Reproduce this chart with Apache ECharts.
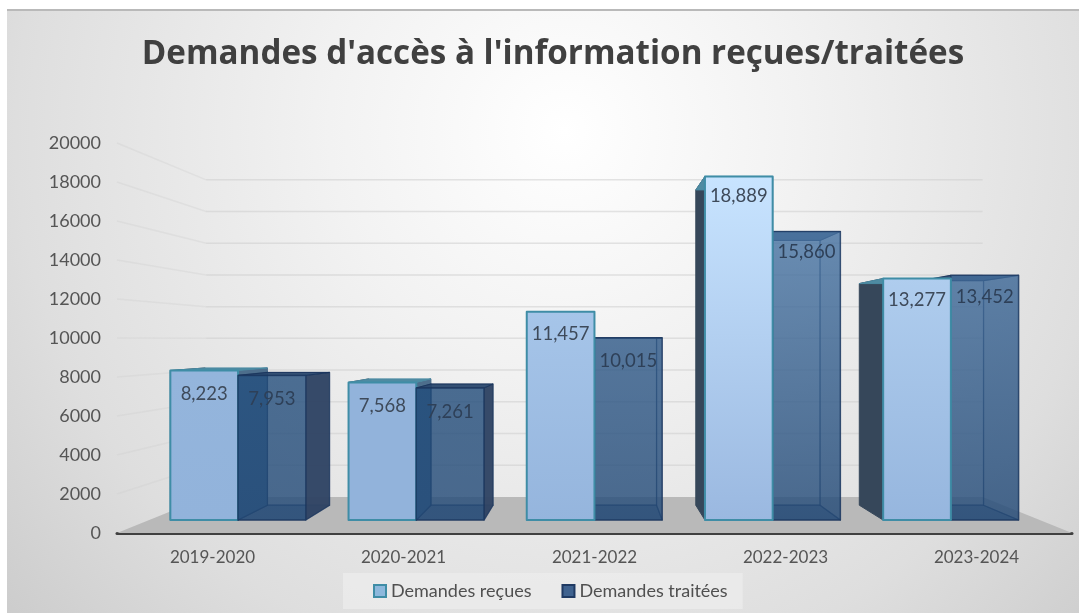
<!DOCTYPE html>
<html lang="fr">
<head>
<meta charset="utf-8">
<title>Demandes d'accès à l'information reçues/traitées</title>
<style>
  html, body { margin: 0; padding: 0; background: #ffffff; }
  #chart { width: 1079px; height: 613px; }
</style>
<script src="https://cdn.jsdelivr.net/npm/echarts@6/dist/echarts.min.js"></script>
</head>
<body>
<div id="chart"></div>
<script>
// Fiscal years and request counts
const categories = ['2019-2020', '2020-2021', '2021-2022', '2022-2023', '2023-2024'];
const demandesRecues = [8223, 7568, 11457, 18889, 13277];
const demandesTraitees = [7953, 7261, 10015, 15860, 13452];
const axisTicks = [2000, 4000, 6000, 8000, 10000, 12000, 14000, 16000, 18000, 20000];

// One-point perspective: every depth plane is a scaling of the axis plane
// around the vanishing point.
const VANISH = { x: 594, y: 340 };
const DEPTH_BAR_FRONT = 0.933;
const DEPTH_BAR_BACK = 0.856;
const DEPTH_WALL = 0.813;
const BAR_BAND_SHARE = 0.38;

const project = (x, y, depth) => [
  VANISH.x + (x - VANISH.x) * depth,
  VANISH.y + (y - VANISH.y) * depth
];

const mix = (a, b, t) => a.map((c, i) => Math.round(c + (b[i] - c) * t));
const rgb = c => `rgb(${c[0]},${c[1]},${c[2]})`;
const poly = (points, style, z2) => ({ type: 'polygon', shape: { points }, style, z2, silent: true });
const linear = (top, bottom) => ({
  type: 'linear', x: 0, y: 0, x2: 0, y2: 1,
  colorStops: [{ offset: 0, color: top }, { offset: 1, color: bottom }]
});

// Corners of one 3D column, in pixels, from the axis scales
function columnGeometry(params, api, seriesPosition) {
  const i = api.value(0);
  const value = api.value(1);
  const centre = api.coord([i, 0])[0];
  const base = api.coord([i, 0])[1];
  const top = api.coord([i, value])[1];
  const w = api.size([1, 0])[0] * BAR_BAND_SHARE;
  const left = centre + (seriesPosition === 0 ? -w : 0);
  const right = left + w;
  const corners = depth => ({
    tl: project(left, top, depth), tr: project(right, top, depth),
    bl: project(left, base, depth), br: project(right, base, depth)
  });
  return { i, value, f: corners(DEPTH_BAR_FRONT), b: corners(DEPTH_BAR_BACK), split: centre };
}

const quad = (a, b, c, d) => [a, b, c, d];
const valueLabel = (g, z2, fill) => {
  const cx = (g.f.tl[0] + g.f.tr[0]) / 2;
  const dy = 27 - 0.4 * g.value / 1000;
  return {
    type: 'text', z2, silent: true,
    style: {
      x: cx, y: g.f.tl[1] + dy,
      text: g.value.toLocaleString('en-US'),
      align: 'center', verticalAlign: 'middle',
      font: '18.5px Lato', fill
    }
  };
};

// Opaque light-blue column with a teal outline
function renderRecues(params, api) {
  const g = columnGeometry(params, api, 0);
  // Right of the vanishing point this column hides its neighbour's inner wall
  const z2 = g.split > VANISH.x ? 6 : 2;
  const t = Math.pow(Math.max(0, Math.min(1, (g.value - 8000) / 10900)), 0.85);
  const topColour = rgb(mix([146, 179, 219], [200, 228, 255], t));
  const bottomColour = rgb(mix([146, 179, 219], [154, 184, 224], t));
  const edge = { stroke: '#3f8da6', lineWidth: 2, lineJoin: 'round' };
  return {
    type: 'group',
    children: [
      poly(quad(g.f.tr, g.b.tr, g.b.br, g.f.br), { fill: '#4d6e8c', stroke: '#4d6e8c', lineWidth: 1 }, z2),
      poly(quad(g.f.tl, g.b.tl, g.b.bl, g.f.bl), { fill: '#36475a', stroke: '#36475a', lineWidth: 1 }, z2),
      poly(quad(g.f.tl, g.f.tr, g.b.tr, g.b.tl), { fill: '#4f8ba2', stroke: '#4a8aa2', lineWidth: 1 }, z2),
      poly(quad(g.f.tl, g.f.tr, g.f.br, g.f.bl), Object.assign({ fill: linear(topColour, bottomColour) }, edge), z2),
      valueLabel(g, z2 + 1, '#3e4a5a')
    ]
  };
}

// Translucent dark-blue column: rear faces stay visible through the front
function renderTraitees(params, api) {
  const g = columnGeometry(params, api, 1);
  const z2 = 4;
  const edge = { stroke: 'rgba(26,52,92,0.9)', lineWidth: 1.5, lineJoin: 'round' };
  const hair = { stroke: 'rgba(26,52,92,0.55)', lineWidth: 1.2, lineJoin: 'round' };
  const rightOutward = g.b.tr[0] > g.f.tr[0];
  const leftInward = g.b.tl[0] > g.f.tl[0];
  const t = Math.max(0, Math.min(1, (g.value - 7000) / 9000));
  const frontTop = rgb(mix([34, 77, 123], [81, 126, 173], t));
  return {
    type: 'group',
    children: [
      poly(quad(g.f.bl, g.f.br, g.b.br, g.b.bl), Object.assign({ fill: 'rgba(24,58,104,0.6)' }, hair), z2),
      poly(quad(g.b.tl, g.b.tr, g.b.br, g.b.bl), Object.assign({ fill: 'rgba(50,82,122,0.4)' }, hair), z2),
      poly(quad(g.f.tl, g.b.tl, g.b.bl, g.f.bl),
        Object.assign({ fill: leftInward ? 'rgba(20,66,118,0.35)' : 'rgba(20,66,118,0.1)' }, hair), z2),
      poly(quad(g.f.tr, g.b.tr, g.b.br, g.f.br),
        Object.assign({ fill: rightOutward ? 'rgba(48,68,100,0.95)' : 'rgba(40,72,112,0.42)' }, hair), z2),
      poly(quad(g.f.tl, g.f.tr, g.b.tr, g.b.tl),
        { fill: 'rgba(42,72,110,0.92)', stroke: 'rgba(26,52,92,0.9)', lineWidth: 1 }, z2),
      poly(quad(g.f.tl, g.f.tr, g.f.br, g.f.bl),
        Object.assign({ fill: linear(frontTop, 'rgb(36,75,120)'), opacity: 0.7 }, edge), z2),
      valueLabel(g, z2, '#2e4058')
    ]
  };
}

// Grey floor between the axis plane and the rear wall
function renderFloor(params, api) {
  const box = params.coordSys;
  const y0 = api.coord([0, 0])[1];
  const l = box.x, r = box.x + box.width;
  return poly([[l, y0], project(l, y0, DEPTH_WALL), project(r, y0, DEPTH_WALL), [r, y0]],
    { fill: '#b9b9b9' }, 0);
}

// Gridline running up the side wall, then across the rear wall
function renderWallLine(params, api) {
  const box = params.coordSys;
  const y = api.coord([0, api.value(1)])[1];
  const l = box.x, r = box.x + box.width;
  const corner = project(l, y, DEPTH_WALL);
  const end = project(r, y, DEPTH_WALL);
  return {
    type: 'group',
    children: [
      { type: 'line', silent: true, z2: 0,
        shape: { x1: l, y1: y, x2: corner[0], y2: corner[1] },
        style: { stroke: 'rgba(205,205,205,0.35)', lineWidth: 1.5 } },
      { type: 'line', silent: true, z2: 0,
        shape: { x1: corner[0], y1: corner[1], x2: end[0], y2: end[1] },
        style: { stroke: 'rgba(205,205,205,0.55)', lineWidth: 1.5 } }
    ]
  };
}

const chart = echarts.init(document.getElementById('chart'), null, { renderer: 'canvas' });

chart.setOption({
  animation: false,
  textStyle: { fontFamily: 'Lato' },
  graphic: [
    { type: 'rect', z: -10, silent: true,
      shape: { x: 7, y: 10, width: 1072, height: 603 },
      style: {
        fill: {
          type: 'radial', x: 0.52, y: 0.2, r: 1.3,
          colorStops: [
            { offset: 0, color: '#ffffff' },
            { offset: 0.3, color: '#f2f2f2' },
            { offset: 0.7, color: '#dedede' },
            { offset: 1, color: '#c8c8c8' }
          ]
        }
      } },
    { type: 'rect', z: -9, silent: true,
      shape: { x: 7, y: 9, width: 1072, height: 2 },
      style: { fill: '#b9b9b9' } }
  ],
  title: {
    text: "Demandes d'accès à l'information reçues/traitées",
    left: 548, top: 33, textAlign: 'center',
    textStyle: { fontFamily: 'Open Sans', fontWeight: 'bold', fontSize: 33.2, color: '#404040' }
  },
  legend: {
    left: 343, top: 573, padding: [9, 15, 9, 30],
    backgroundColor: 'rgba(236,236,236,0.75)',
    itemWidth: 12, itemHeight: 12, itemGap: 30,
    icon: 'rect',
    textStyle: { fontFamily: 'Lato', fontSize: 18, color: '#505050' },
    data: [
      { name: 'Demandes reçues', itemStyle: { color: '#8db8dc', borderColor: '#3f8da6', borderWidth: 2 } },
      { name: 'Demandes traitées', itemStyle: { color: '#3f628f', borderColor: '#1f3a63', borderWidth: 2 } }
    ]
  },
  grid: { left: 117, right: 7, top: 143, height: 390, containLabel: false },
  xAxis: {
    type: 'category', data: categories,
    axisLine: { lineStyle: { color: '#404040', width: 3 } },
    axisTick: { show: false },
    axisLabel: { fontSize: 17, color: '#555555', margin: 16, interval: 0 }
  },
  yAxis: {
    type: 'value', min: 0, max: 20000, interval: 2000,
    axisLine: { show: false }, axisTick: { show: false }, splitLine: { show: false },
    axisLabel: { fontSize: 18, color: '#555555', margin: 16, formatter: v => String(v) }
  },
  series: [
    { type: 'custom', name: 'floor', z: 1, silent: true, renderItem: renderFloor,
      data: [[0, 0]], encode: { x: 0, y: 1 } },
    { type: 'custom', name: 'wall', z: 1, silent: true, renderItem: renderWallLine,
      data: axisTicks.map(v => [0, v]), encode: { x: 0, y: 1 } },
    { type: 'custom', name: 'Demandes reçues', z: 3, renderItem: renderRecues,
      itemStyle: { color: '#8db8dc' },
      data: demandesRecues.map((v, i) => [i, v]), encode: { x: 0, y: 1 } },
    { type: 'custom', name: 'Demandes traitées', z: 3, renderItem: renderTraitees,
      itemStyle: { color: '#3f628f' },
      data: demandesTraitees.map((v, i) => [i, v]), encode: { x: 0, y: 1 } }
  ]
});
</script>
</body>
</html>
